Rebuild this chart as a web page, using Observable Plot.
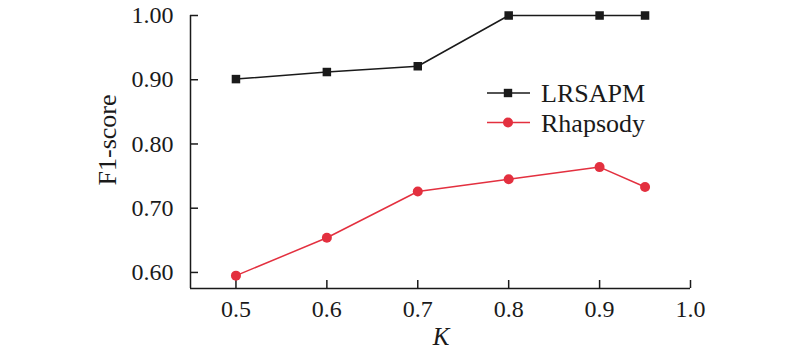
<!DOCTYPE html>
<html>
<head>
<meta charset="utf-8">
<script src="https://cdn.jsdelivr.net/npm/d3@7"></script>
<script src="https://cdn.jsdelivr.net/npm/@observablehq/plot@0.6"></script>
<style>
  html, body { margin: 0; padding: 0; background: #fff; }
  #chart svg { display: block; }
</style>
</head>
<body>
<div id="chart"></div>
<script>
const kValues = [0.5, 0.6, 0.7, 0.8, 0.9, 0.95];
const lrsapm = [0.901, 0.912, 0.921, 1.000, 1.000, 1.000];
const rhapsody = [0.595, 0.654, 0.726, 0.745, 0.764, 0.733];
const seriesNames = ["LRSAPM", "Rhapsody"];
const xTicks = [0.5, 0.6, 0.7, 0.8, 0.9, 1.0];
const yTicks = [0.60, 0.70, 0.80, 0.90, 1.00];

const BLACK = "#1a1a1a";
const RED = "#e3303f";
const FONT = "Liberation Serif, Times New Roman, serif";

const rowsA = kValues.map((k, i) => ({k, v: lrsapm[i]}));
const rowsB = kValues.map((k, i) => ({k, v: rhapsody[i]}));

const xDomain = [0.45, 1.0];
const yDomain = [0.575, 1.0];

const plot = Plot.plot({
  width: 800,
  height: 359,
  marginLeft: 190,
  marginRight: 110,
  marginTop: 15,
  marginBottom: 71,
  style: {fontFamily: FONT, fontSize: "24px", color: BLACK, background: "#fff"},
  x: {domain: xDomain},
  y: {domain: yDomain},
  marks: [
    Plot.ruleX([xDomain[0]], {y1: yDomain[0], y2: 1.0, stroke: BLACK, strokeWidth: 1.5}),
    Plot.ruleY([yDomain[0]], {x1: xDomain[0], x2: 1.0, stroke: BLACK, strokeWidth: 1.5}),
    Plot.axisX({ticks: xTicks, tickFormat: d3.format(".1f"), tickSize: -8, tickPadding: 19,
      stroke: BLACK, strokeWidth: 1.5, fill: BLACK, fontSize: 24, label: null}),
    Plot.axisY({ticks: yTicks, tickFormat: d3.format(".2f"), tickSize: -8, tickPadding: 25,
      stroke: BLACK, strokeWidth: 1.5, fill: BLACK, fontSize: 24, label: null}),
    Plot.line(rowsA, {x: "k", y: "v", stroke: BLACK, strokeWidth: 1.5}),
    Plot.dot(rowsA, {x: "k", y: "v", symbol: "square", r: 4.8, fill: BLACK, stroke: "none"}),
    Plot.line(rowsB, {x: "k", y: "v", stroke: RED, strokeWidth: 1.5}),
    Plot.dot(rowsB, {x: "k", y: "v", symbol: "circle", r: 5, fill: RED, stroke: "none"})
  ]
});

document.getElementById("chart").appendChild(plot);

const svg = d3.select(plot);
// axis titles
svg.append("text")
  .attr("x", 441).attr("y", 345)
  .attr("text-anchor", "middle")
  .attr("font-family", FONT).attr("font-size", 25).attr("font-style", "italic")
  .attr("fill", BLACK).text("K");
svg.append("text")
  .attr("transform", "translate(116,140) rotate(-90)")
  .attr("text-anchor", "middle")
  .attr("font-family", FONT).attr("font-size", 26)
  .attr("fill", BLACK).text("F1-score");

// legend
const legendColors = [BLACK, RED];
const legendSymbols = ["square", "circle"];
seriesNames.forEach((name, i) => {
  const y = 93 + i * 29.5;
  const g = svg.append("g");
  g.append("line").attr("x1", 487).attr("x2", 530).attr("y1", y).attr("y2", y)
    .attr("stroke", legendColors[i]).attr("stroke-width", 1.5);
  if (legendSymbols[i] === "square") {
    g.append("rect").attr("x", 508 - 4.2).attr("y", y - 4.2).attr("width", 8.4).attr("height", 8.4)
      .attr("fill", legendColors[i]);
  } else {
    g.append("circle").attr("cx", 508).attr("cy", y).attr("r", 5).attr("fill", legendColors[i]);
  }
  g.append("text").attr("x", 541).attr("y", y).attr("dy", "0.35em")
    .attr("text-anchor", "start")
    .attr("font-family", FONT).attr("font-size", 26).attr("fill", BLACK).text(name);
});
</script>
</body>
</html>
